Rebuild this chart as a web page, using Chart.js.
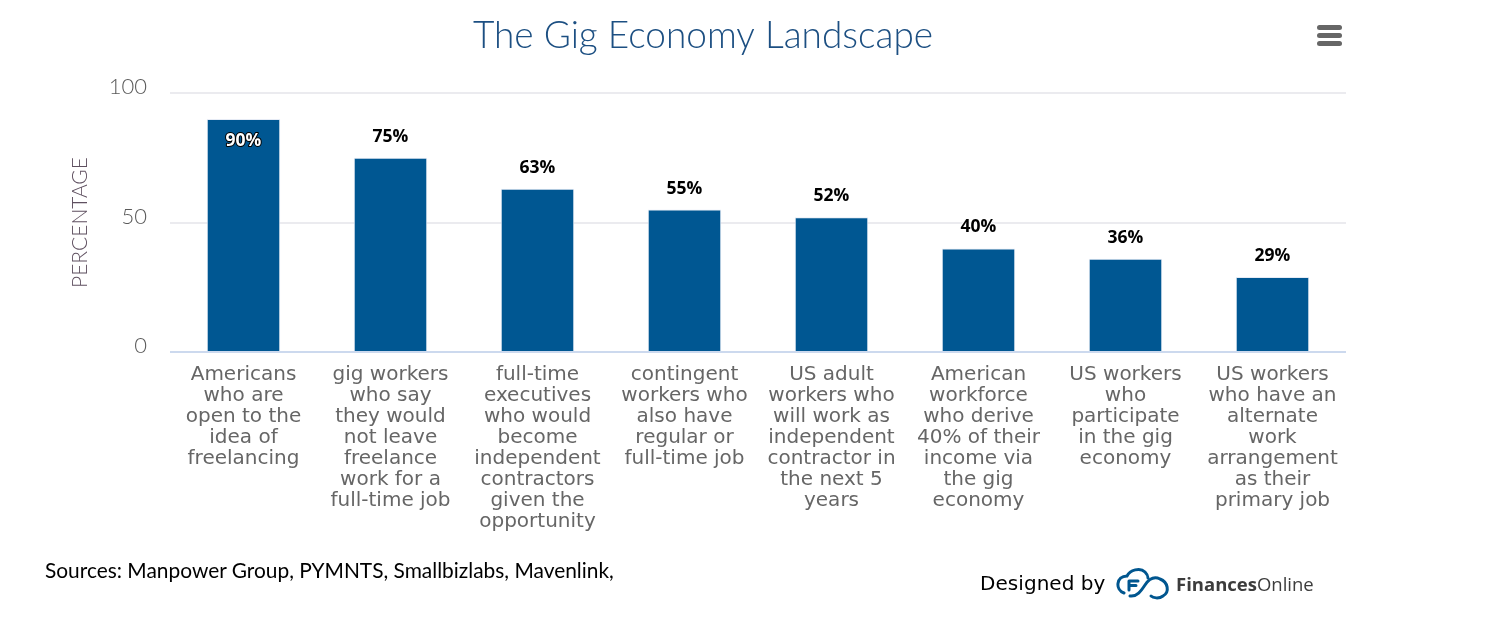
<!DOCTYPE html>
<html>
<head>
<meta charset="utf-8">
<title>The Gig Economy Landscape</title>
<script src="https://cdn.jsdelivr.net/npm/chart.js@4"></script>
<style>
  html, body { margin: 0; background: #fff; }
  #wrap { position: relative; width: 1512px; height: 627px; overflow: hidden; }
  canvas { position: absolute; left: 0; top: 0; }
  .note { position: absolute; white-space: nowrap; color: #000; }
  #sources { left: 45px; top: 557px; font: 20.9px Lato, sans-serif; }
  #designed { left: 980px; top: 571px; font: 20px "DejaVu Sans", sans-serif; letter-spacing: 0.05px; }
  #brand { left: 1176px; top: 571px; font: 18.5px "Open Sans", sans-serif; color: #3c3c3c; }
  #brand b { font-weight: 700; }
  #logo { position: absolute; left: 1116px; top: 567px; }
  #menu { position: absolute; left: 1317px; top: 25px; }
</style>
</head>
<body>
<div id="wrap">
  <canvas id="chart" width="1512" height="627"></canvas>
  <svg id="menu" width="25" height="21">
    <rect x="0" y="0" width="25" height="5" rx="2.5" fill="#666"/>
    <rect x="0" y="8" width="25" height="5" rx="2.5" fill="#666"/>
    <rect x="0" y="16" width="25" height="5" rx="2.5" fill="#666"/>
  </svg>
  <div class="note" id="sources">Sources: Manpower Group, PYMNTS, Smallbizlabs, Mavenlink,</div>
  <div class="note" id="designed">Designed by</div>
  <svg id="logo" width="54" height="34" viewBox="0 0 54 34" fill="none" stroke="#00568f" stroke-width="3" stroke-linecap="round">
    <path d="M8 26 C-1 23 0 9 11 9 C14 3 24 0 29 5 C31 7 32 9 32 11"/>
    <path d="M14 29 C21 30 25 24 29 18 C33 12 38 9 44 12 C52 15 54 25 47 29 C43 32 37 31 35 29"/>
    <path d="M13 14 H22 M13 14 V23 M13 18.5 H20"/>
  </svg>
  <div class="note" id="brand"><b>Finances</b>Online</div>
</div>
<script>
const categories = [
  ["Americans", "who are", "open to the", "idea of", "freelancing"],
  ["gig workers", "who say", "they would", "not leave", "freelance", "work for a", "full-time job"],
  ["full-time", "executives", "who would", "become", "independent", "contractors", "given the", "opportunity"],
  ["contingent", "workers who", "also have", "regular or", "full-time job"],
  ["US adult", "workers who", "will work as", "independent", "contractor in", "the next 5", "years"],
  ["American", "workforce", "who derive", "40% of their", "income via", "the gig", "economy"],
  ["US workers", "who", "participate", "in the gig", "economy"],
  ["US workers", "who have an", "alternate", "work", "arrangement", "as their", "primary job"]
];
const percentages = [90, 75, 63, 55, 52, 40, 36, 29];
const yTicks = [0, 50, 100];

// Highcharts style value labels: the tallest one sits inside its bar
const valueLabels = {
  id: "valueLabels",
  afterDatasetsDraw(chart) {
    const ctx = chart.ctx;
    const y = chart.scales.y;
    ctx.save();
    ctx.font = "700 17.5px 'Open Sans', sans-serif";
    ctx.textAlign = "center";
    ctx.textBaseline = "middle";
    ctx.lineJoin = "round";
    chart.getDatasetMeta(0).data.forEach((bar, i) => {
      const inside = percentages[i] >= 90;
      const py = y.getPixelForValue(percentages[i]) + (inside ? 22 : -21);
      const label = percentages[i] + "%";
      ctx.lineWidth = 2;
      ctx.strokeStyle = inside ? "#000" : "#fff";
      ctx.strokeText(label, bar.x, py);
      ctx.fillStyle = inside ? "#fff" : "#000";
      ctx.fillText(label, bar.x, py);
    });
    ctx.restore();
  }
};

new Chart(document.getElementById("chart"), {
  type: "bar",
  plugins: [valueLabels],
  data: {
    labels: categories,
    datasets: [{
      data: percentages,
      backgroundColor: "#005792",
      borderColor: "#e6ebf5",
      borderWidth: 1,
      barPercentage: 0.5,
      categoryPercentage: 1
    }]
  },
  options: {
    responsive: false,
    animation: false,
    devicePixelRatio: 1,
    layout: { padding: { left: 60, right: 166, top: 0, bottom: 0 } },
    plugins: {
      legend: { display: false },
      tooltip: { enabled: false },
      title: {
        display: true,
        text: "The Gig Economy Landscape",
        color: "#1c4f82",
        font: { family: "Lato", size: 37, weight: "300", lineHeight: 1.2 },
        padding: { top: 14, bottom: 34.6 }
      }
    },
    scales: {
      x: {
        afterFit(scale) { scale.height = 275; },
        grid: { display: false },
        border: { display: false },
        ticks: {
          color: "#666",
          autoSkip: false,
          maxRotation: 0,
          padding: 4,
          font: { family: "DejaVu Sans", size: 20, lineHeight: 1.05 }
        }
      },
      y: {
        min: 0,
        max: 100,
        afterFit(scale) { scale.width = 110; },
        afterBuildTicks(scale) { scale.ticks = yTicks.map((v) => ({ value: v })); },
        grid: {
          drawTicks: false,
          lineWidth: 2,
          color: (c) => (c.tick.value === 0 ? "#ccd9ee" : "#ebebef")
        },
        border: { display: false },
        title: {
          display: true,
          text: "PERCENTAGE",
          color: "#5f5060",
          font: { family: "Lato", size: 21, weight: "300" },
          padding: { top: 8, bottom: 0 }
        },
        ticks: {
          color: "#5a5a5a",
          padding: 23,
          font: { family: "Lato", size: 22, weight: "300", lineHeight: 0.55 },
          // blank second line lifts the label above its gridline
          callback: (v) => [String(v), ""]
        }
      }
    }
  }
});
</script>
</body>
</html>
